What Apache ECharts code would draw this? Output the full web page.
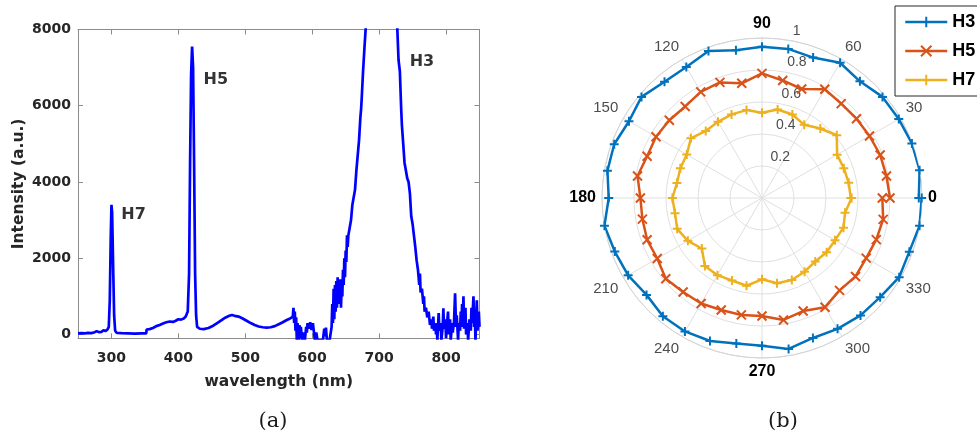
<!DOCTYPE html>
<html><head><meta charset="utf-8">
<script src="https://cdn.jsdelivr.net/npm/echarts@6/dist/echarts.min.js"></script>
<style>html,body{margin:0;padding:0;background:#fff}#c{width:977px;height:437px}</style>
</head><body><div id="c"></div>
<script>
// ---- spectrum (a) ----
const wavelength = [250,255,260,265,270,275,278,281,285,288,291,294,296,297.5,299,300,301,302.5,304,305.5,308,315,325,335,345,352,352.5,357,362,367,372,377,382,387,392,396,400,404,408,411,414,416,417.5,419,420.5,422,423.5,425,426.5,428,432,438,445,452,458,464,470,476,480,484,490,496,502,508,514,520,526,532,538,544,550,556,562,567,571,572,573,574,575,576,577,578,579,580,581,582,583,585,587,589,591,592,593,595,597,599,601,603,604,606,608,612,616,618,619.5,620.5,622,626,629,630,631,632,633,634,635,636,637,638,639,640,641,642,643,644,645,646,647,648,649,650,651,652,653,654,656,658,660,662,664,666,668,670,672,673,674,676,678,680,684,690,700,710,720,725,727,729,731,733,734,736,738,740,742,744,746,748,750,752,754,756,758,760,761,762,764,766,767,768,770,772,774,776,778,779,781,782,784,785,786,787,789,790,792,793,795,796,797,799,800,801,803,804,806,807,809,810,812,813.5,815,816,818,819,821,822,823,824,825,826,827,829,830,832,833,835,837,838,839,841,842,843,844,845,846,847,848,849,850];
const intensity = [30,35,30,40,35,60,90,60,70,110,90,130,200,900,2600,3400,3200,1800,500,100,40,35,30,25,30,30,130,140,170,220,250,290,320,340,330,360,400,390,420,470,600,1600,4500,6800,7550,7000,4500,1600,500,200,150,140,170,230,300,370,440,490,510,490,470,420,360,300,250,210,190,180,190,220,270,320,380,420,470,700,300,600,100,450,-150,300,150,-150,250,-100,200,-150,50,-150,200,50,300,150,320,120,300,250,-150,50,-150,-150,-150,150,-50,180,-150,-150,200,800,300,1200,400,1300,600,1400,700,1500,800,1300,900,1450,700,1300,1000,1700,1300,2000,1500,2200,1900,2600,2300,2600,2800,3000,3400,3600,3800,4300,4700,5100,5700,5900,6200,6900,7500,8050,9500,10800,11500,11300,10200,9000,8100,7200,6900,5900,5500,5000,4500,4300,4100,4000,3700,3100,2900,2600,2300,1950,1700,1300,1600,1100,1200,800,1000,600,700,450,600,250,400,150,470,100,300,0,250,-150,560,100,300,-150,200,690,150,400,-100,200,600,0,400,-150,300,50,350,1080,200,500,-150,300,100,600,200,800,300,1000,150,700,0,300,-150,400,100,700,300,1000,200,500,-150,400,900,100,300,600,200];
const xTickValues = [300,400,500,600,700,800];
const yTickValues = [0,2000,4000,6000,8000];
const peakNames = ['H7','H5','H3'];
const peakLabelX = [333,456,764];
const peakLabelY = [3130,6670,7140];

// ---- polar (b) ----
const angles = [0,10,20,30,40,50,60,70,80,90,100,110,120,130,140,150,160,170,180,190,200,210,220,230,240,250,260,270,280,290,300,310,320,330,340,350,360];
const h3 = [0.98,1.0,0.997,0.987,0.983,0.952,0.976,0.934,0.946,0.946,0.938,0.978,0.946,0.948,0.983,0.96,0.983,0.981,0.958,1.0,0.979,0.966,0.942,0.964,0.963,0.951,0.924,0.923,0.958,0.931,0.944,0.958,0.964,0.99,0.98,1.0,0.998];
const h5 = [0.80,0.79,0.786,0.776,0.771,0.77,0.785,0.725,0.746,0.779,0.728,0.769,0.766,0.747,0.756,0.765,0.764,0.79,0.76,0.759,0.764,0.756,0.785,0.767,0.761,0.745,0.742,0.737,0.774,0.752,0.788,0.754,0.763,0.752,0.76,0.769,0.752];
const h7 = [0.555,0.55,0.544,0.542,0.61,0.567,0.528,0.555,0.562,0.533,0.558,0.556,0.55,0.547,0.58,0.543,0.543,0.54,0.56,0.552,0.564,0.535,0.491,0.555,0.557,0.549,0.557,0.508,0.541,0.545,0.532,0.518,0.527,0.527,0.542,0.527,0.56];
const seriesNames = ['H3','H5','H7'];
const seriesColors = ['#0072BD','#D95319','#EDB120'];
const radiusTicks = [0.2,0.4,0.6,0.8,1];
const captions = ['(a)','(b)'];

const PLUS = 'path://M0,-5L0,5M-5,0L5,0';
const CROSS = 'path://M-5,-5L5,5M-5,5L5,-5';
const seriesSymbols = [PLUS, CROSS, PLUS];
const polarValues = [h3, h5, h7];

const axisGray = '#8c8c8c';
const tickFont = {fontFamily:'DejaVu Sans', fontWeight:'bold', fontSize:14, color:'#262626'};

const chart = echarts.init(document.getElementById('c'), null, {renderer:'canvas'});

const series = [
  {
    type:'line', xAxisIndex:0, yAxisIndex:0,
    data: wavelength.map((w,i)=>[w,intensity[i]]),
    showSymbol:false, symbol:'none', clip:true,
    lineStyle:{color:'#0000ff', width:2.7}, z:3
  },
  {
    type:'scatter', xAxisIndex:0, yAxisIndex:0,
    data: peakNames.map((n,i)=>({name:n, value:[peakLabelX[i], peakLabelY[i]]})),
    symbolSize:0, silent:true,
    label:{show:true, position:'inside', formatter:'{b}', fontFamily:'DejaVu Sans', fontWeight:'bold', fontSize:16, color:'#000'}
  }
];
seriesNames.forEach((n,k)=>{
  series.push({
    name:n, type:'line', coordinateSystem:'polar', polarIndex:0,
    data: angles.map((a,i)=>[polarValues[k][i], a]),
    symbol: seriesSymbols[k], symbolSize:9, showSymbol:true,
    lineStyle:{color:seriesColors[k], width:2.5},
    itemStyle:{color:seriesColors[k], borderColor:seriesColors[k], borderWidth:2},
    z:3
  });
});

const option = {
  animation:false,
  backgroundColor:'#fff',
  title: [
    {text:captions[0], left:268, top:406, textAlign:'center', textStyle:{fontFamily:'DejaVu Serif', fontSize:21, fontWeight:'normal', color:'#1a1a1a'}},
    {text:captions[1], left:778, top:406, textAlign:'center', textStyle:{fontFamily:'DejaVu Serif', fontSize:21, fontWeight:'normal', color:'#1a1a1a'}}
  ],
  legend: {
    data: seriesNames, orient:'vertical', left:895, top:6,
    itemWidth:42, itemHeight:13, itemGap:11, padding:[7,70,7,9],
    borderColor:'#262626', borderWidth:1, backgroundColor:'#fff',
    lineStyle:{width:2.5},
    textStyle:{fontFamily:'Liberation Sans', fontWeight:'bold', fontSize:18, color:'#000'}
  },
  grid: {left:78, right:497.5, top:29.5, bottom:98.7, containLabel:false},
  xAxis: [
    {type:'value', min:250, max:850, position:'bottom',
     axisLine:{show:true, onZero:false, lineStyle:{color:axisGray}},
     axisTick:{show:true, inside:true, length:5, customValues:xTickValues, lineStyle:{color:axisGray}},
     axisLabel:Object.assign({customValues:xTickValues, margin:13, formatter: v => String(v)}, tickFont),
     splitLine:{show:false},
     name:'wavelength (nm)', nameLocation:'middle', nameGap:36,
     nameTextStyle:{fontFamily:'DejaVu Sans', fontWeight:'bold', fontSize:15.5, color:'#262626'}},
    {type:'value', min:250, max:850, position:'top',
     axisLine:{show:true, onZero:false, lineStyle:{color:axisGray}},
     axisTick:{show:true, inside:true, length:5, customValues:xTickValues, lineStyle:{color:axisGray}},
     axisLabel:{show:false}, splitLine:{show:false}}
  ],
  yAxis: [
    {type:'value', min:-100, max:8000, position:'left',
     axisLine:{show:true, onZero:false, lineStyle:{color:axisGray}},
     axisTick:{show:true, inside:true, length:5, customValues:yTickValues, lineStyle:{color:axisGray}},
     axisLabel:Object.assign({customValues:yTickValues, margin:7, formatter: v => String(v)}, tickFont),
     splitLine:{show:false},
     name:'Intensity (a.u.)', nameLocation:'middle', nameGap:51,
     nameTextStyle:{fontFamily:'DejaVu Sans', fontWeight:'bold', fontSize:15.5, color:'#262626'}},
    {type:'value', min:-100, max:8000, position:'right',
     axisLine:{show:true, onZero:false, lineStyle:{color:axisGray}},
     axisTick:{show:true, inside:true, length:5, customValues:yTickValues, lineStyle:{color:axisGray}},
     axisLabel:{show:false}, splitLine:{show:false}}
  ],
  polar: [
    {center:[762,198], radius:160},
    {center:[762,198], radius:160}
  ],
  angleAxis: [
    {polarIndex:0, type:'value', min:0, max:360, interval:30, startAngle:0, clockwise:false,
     axisLine:{show:true, lineStyle:{color:'#d4d4d4', width:1}},
     axisTick:{show:false},
     splitLine:{show:true, lineStyle:{color:'#e0e0e0', width:1}},
     axisLabel:{margin:6,
       formatter: v => (v % 90 === 0 ? '{b|' + v + '}' : '{n|' + v + '}'),
       rich:{
         b:{fontFamily:'Liberation Sans', fontWeight:'bold', fontSize:16, color:'#000'},
         n:{fontFamily:'Liberation Sans', fontSize:15, color:'#4d4d4d'}
       }}},
    {polarIndex:1, type:'value', min:0, max:360, startAngle:80, clockwise:false, show:false}
  ],
  radiusAxis: [
    {polarIndex:0, type:'value', min:0, max:1, interval:0.2,
     axisLine:{show:false}, axisTick:{show:false}, axisLabel:{show:false},
     splitLine:{show:true, lineStyle:{color:'#e0e0e0', width:1}}},
    {polarIndex:1, type:'value', min:0, max:1, interval:0.2,
     axisLine:{show:false}, axisTick:{show:false}, splitLine:{show:false},
     axisLabel:{customValues:radiusTicks, margin:-3, align:'left', verticalAlign:'bottom',
       fontFamily:'Liberation Sans', fontSize:14, color:'#4d4d4d', padding:[0,0,3,0],
       formatter: v => String(+v.toFixed(1))}}
  ],
  series: series
};
chart.setOption(option);
</script>
</body></html>
